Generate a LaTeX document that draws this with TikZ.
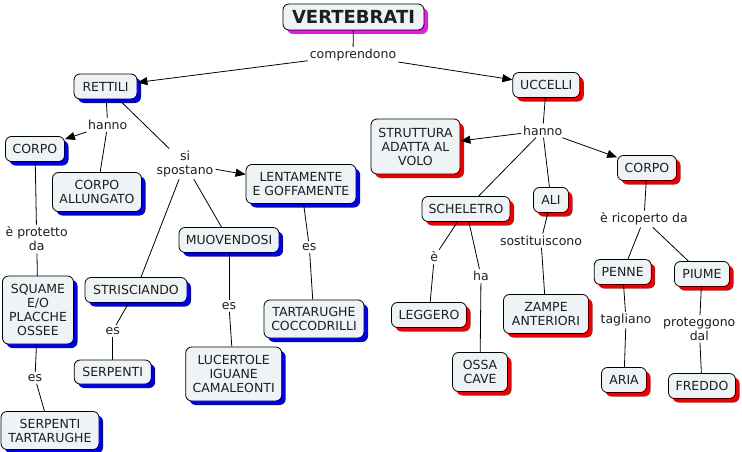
\documentclass[tikz,border=0pt]{standalone}
\usepackage{fontspec}
\setmainfont{DejaVu Sans}
\usetikzlibrary{shadows,arrows.meta}
\definecolor{boxfill}{HTML}{EEF3F5}
\definecolor{txt}{HTML}{1E1E1E}
\definecolor{shblue}{HTML}{0000E6}
\definecolor{shred}{HTML}{EE0000}
\definecolor{shmag}{HTML}{E020E0}
\tikzset{
  box/.style={draw=black, line width=0.8pt, rounded corners=6pt, fill=boxfill,
    align=center, inner sep=1pt, text=txt,
    font=\fontsize{12.5}{14}\selectfont},
  bsh/.style={drop shadow={fill=shblue, opacity=1, shadow xshift=4pt, shadow yshift=-4pt}},
  rsh/.style={drop shadow={fill=shred, opacity=1, shadow xshift=4pt, shadow yshift=-4pt}},
  msh/.style={drop shadow={fill=shmag, opacity=1, shadow xshift=4pt, shadow yshift=-4pt}},
  lbl/.style={align=center, inner sep=2pt, text=txt, font=\fontsize{12.5}{14}\selectfont},
  conn/.style={draw=black, line width=0.8pt},
  arr/.style={conn, -{Triangle[length=10pt,width=8pt]}},
}
\begin{document}
\begin{tikzpicture}[x=1pt,y=-1pt]
\useasboundingbox (0,0) rectangle (742,452);
% boxes
\node[box,msh,minimum width=141pt,minimum height=26pt,font=\fontsize{18}{20}\selectfont\bfseries] (vert) at (353.5,17) {VERTEBRATI};
\node[box,bsh,minimum width=63pt,minimum height=25pt] (rettili) at (105.5,86.5) {RETTILI};
\node[box,rsh,minimum width=67pt,minimum height=25pt] (uccelli) at (546.3,85) {UCCELLI};
\node[box,bsh,minimum width=59pt,minimum height=25pt] (corpoL) at (35,149) {CORPO};
\node[box,bsh,minimum width=89pt,minimum height=39pt] (allung) at (97,192) {CORPO\\ALLUNGATO};
\node[box,bsh,minimum width=110pt,minimum height=39pt] (lent) at (301,184) {LENTAMENTE\\E GOFFAMENTE};
\node[box,bsh,minimum width=71pt,minimum height=68pt] (squame) at (38,310) {SQUAME\\E/O\\PLACCHE\\OSSEE};
\node[box,bsh,minimum width=102pt,minimum height=25pt] (stris) at (136,290) {STRISCIANDO};
\node[box,bsh,minimum width=100pt,minimum height=25pt] (muov) at (229,240) {MUOVENDOSI};
\node[box,bsh,minimum width=100pt,minimum height=38pt] (tartc) at (314,319) {TARTARUGHE\\COCCODRILLI};
\node[box,bsh,minimum width=96pt,minimum height=54pt] (lucert) at (233.7,374) {LUCERTOLE\\IGUANE\\CAMALEONTI};
\node[box,bsh,minimum width=77pt,minimum height=24pt] (serp) at (112.7,372) {SERPENTI};
\node[box,bsh,minimum width=98pt,minimum height=38pt] (serptart) at (50,430.5) {SERPENTI\\TARTARUGHE};
\node[box,rsh,minimum width=89pt,minimum height=55pt] (strutt) at (415.5,146.5) {STRUTTURA\\ADATTA AL\\VOLO};
\node[box,rsh,minimum width=59pt,minimum height=25pt] (corpoR) at (647,168) {CORPO};
\node[box,rsh,minimum width=88pt,minimum height=25pt] (schel) at (466,209) {SCHELETRO};
\node[box,rsh,minimum width=35pt,minimum height=25pt] (ali) at (551,200) {ALI};
\node[box,rsh,minimum width=75pt,minimum height=25pt] (legg) at (429,315) {LEGGERO};
\node[box,rsh,minimum width=55pt,minimum height=39pt] (ossa) at (480,372) {OSSA\\CAVE};
\node[box,rsh,minimum width=85pt,minimum height=39pt] (zampe) at (546,314) {ZAMPE\\ANTERIORI};
\node[box,rsh,minimum width=57pt,minimum height=25pt] (penne) at (622.7,272) {PENNE};
\node[box,rsh,minimum width=55pt,minimum height=25pt] (piume) at (702,274) {PIUME};
\node[box,rsh,minimum width=45pt,minimum height=25pt] (aria) at (624,380) {ARIA};
\node[box,rsh,minimum width=67pt,minimum height=25pt] (freddo) at (702,386) {FREDDO};
% labels
\node[lbl] (compr) at (353,55) {comprendono};
\node[lbl] (hannoL) at (107.7,125) {hanno};
\node[lbl] (sisp) at (185,164) {si\\spostano};
\node[lbl] (es1) at (309.3,247) {es};
\node[lbl] (es2) at (229,306) {es};
\node[lbl] (es3) at (112.7,331) {es};
\node[lbl] (prot) at (36.7,239) {è protetto\\da};
\node[lbl] (es4) at (35,378) {es};
\node[lbl] (hannoR) at (542.7,130.7) {hanno};
\node[lbl] (sost) at (541,240.7) {sostituiscono};
\node[lbl] (ee) at (434.3,257) {è};
\node[lbl] (ha) at (481,276) {ha};
\node[lbl] (ricop) at (644,219) {è ricoperto da};
\node[lbl] (tagl) at (626,320) {tagliano};
\node[lbl] (prott) at (699.3,329) {proteggono\\dal};
% connectors
\draw[conn] (vert) -- (compr);
\draw[arr] (compr) -- (rettili);
\draw[arr] (compr) -- (uccelli);
\draw[conn] (rettili) -- (hannoL);
\draw[arr] (hannoL) -- (corpoL);
\draw[conn] (hannoL) -- (allung);
\draw[conn] (rettili) -- (sisp);
\draw[arr] (sisp) -- (lent);
\draw[conn] (sisp) -- (stris);
\draw[conn] (sisp) -- (muov);
\draw[conn] (lent) -- (es1);
\draw[conn] (es1) -- (tartc);
\draw[conn] (muov) -- (es2);
\draw[conn] (es2) -- (lucert);
\draw[conn] (stris) -- (es3);
\draw[conn] (es3) -- (serp);
\draw[conn] (corpoL) -- (prot);
\draw[conn] (prot) -- (squame);
\draw[conn] (squame) -- (es4);
\draw[conn] (es4) -- (serptart);
\draw[conn] (uccelli) -- (hannoR);
\draw[arr] (hannoR) -- (strutt);
\draw[arr] (hannoR) -- (corpoR);
\draw[conn] (hannoR) -- (schel);
\draw[conn] (hannoR) -- (ali);
\draw[conn] (ali) -- (sost);
\draw[conn] (sost) -- (zampe);
\draw[conn] (schel) -- (ee);
\draw[conn] (ee) -- (legg);
\draw[conn] (schel) -- (ha);
\draw[conn] (ha) -- (ossa);
\draw[conn] (corpoR) -- (ricop);
\draw[conn] (ricop) -- (penne);
\draw[conn] (ricop) -- (piume);
\draw[conn] (penne) -- (tagl);
\draw[conn] (tagl) -- (aria);
\draw[conn] (piume) -- (prott);
\draw[conn] (prott) -- (freddo);
\end{tikzpicture}
\end{document}
